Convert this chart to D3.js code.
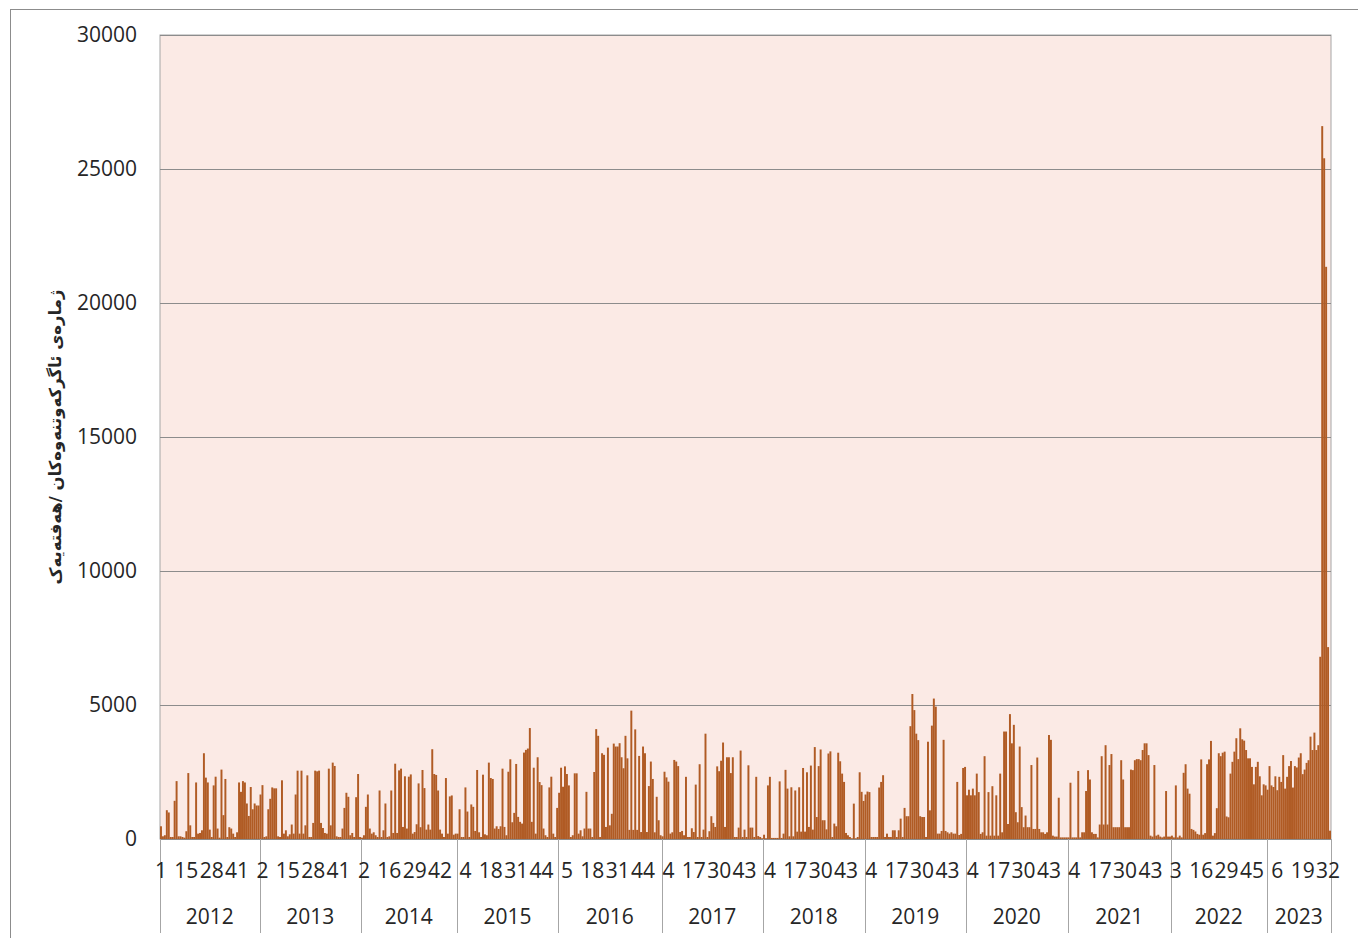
<!DOCTYPE html>
<html>
<head>
<meta charset="utf-8">
<script src="https://cdn.jsdelivr.net/npm/d3@7"></script>
<style>
  body { margin: 0; background: #fff; }
  svg { display: block; }
  text { font-family: "Open Sans", "Liberation Sans", Arial, sans-serif; fill: #262626; }
</style>
</head>
<body>
<svg id="chart"></svg>
<script>
// weekly counts, one array per year
var years = ["2012", "2013", "2014", "2015", "2016", "2017", "2018", "2019", "2020", "2021", "2022", "2023"];

var v2012 = [475, 100, 140, 1075, 990, 75, 75, 1425, 2160, 100, 100, 75, 50, 290, 2460, 510, 75, 75, 2110, 200,
  225, 325, 3200, 2290, 2110, 350, 75, 2000, 2325, 390, 50, 2590, 890, 2240, 75, 440, 390, 200, 75, 250,
  2110, 1760, 2160, 2110, 1325, 860, 1940, 1110, 1325, 1250, 1250];
var v2013 = [1660, 2010, 75, 100, 1110, 1500, 1925, 1890, 1890, 100, 75, 2190, 200, 325, 100, 175, 540, 200, 1660, 2550,
  200, 2550, 200, 510, 2375, 75, 75, 600, 2550, 2525, 2550, 600, 410, 225, 200, 2625, 510, 2850, 2725, 100,
  75, 75, 390, 1160, 1725, 1575, 140, 225, 75, 1560, 2425, 75];
var v2014 = [50, 140, 1200, 1660, 390, 200, 250, 140, 75, 1810, 75, 325, 1325, 75, 100, 1810, 225, 2810, 225, 2560,
  2625, 450, 2340, 390, 2325, 2410, 200, 260, 550, 2075, 440, 2575, 1900, 350, 540, 350, 3350, 2425, 2390, 1810,
  350, 200, 75, 2275, 200, 1590, 1625, 160, 200];
var v2015 = [200, 1110, 75, 75, 1925, 1025, 75, 1290, 1200, 300, 2575, 250, 75, 2400, 175, 140, 2850, 2275, 2240, 390,
  475, 375, 475, 2625, 450, 140, 2510, 2975, 625, 975, 2800, 825, 640, 575, 3225, 3325, 3375, 4140, 640, 2660,
  200, 3050, 2125, 2010, 390, 140, 75, 1925, 2325, 200, 75, 1160];
var v2016 = [1725, 2660, 1950, 2710, 2425, 2000, 75, 140, 2450, 2450, 200, 325, 100, 390, 1760, 390, 390, 75, 2500, 4100,
  3850, 75, 3200, 3140, 450, 3410, 510, 940, 3560, 3450, 3450, 3575, 3050, 2640, 3850, 3010, 340, 4790, 340, 4090,
  340, 3100, 260, 3450, 3200, 260, 1975, 2890, 2240, 250, 1575, 700, 140];
var v2017 = [100, 2510, 2300, 2140, 200, 250, 2950, 2890, 2720, 260, 300, 140, 2320, 75, 75, 400, 260, 2030, 75, 2790,
  75, 350, 3930, 75, 290, 850, 600, 450, 2710, 2530, 2920, 3600, 450, 3050, 3050, 2460, 3050, 75, 75, 425,
  3300, 75, 350, 75, 2750, 425, 425, 75, 2320, 110, 75, 25];
var v2018 = [160, 25, 2000, 2320, 40, 40, 40, 40, 2150, 40, 200, 2580, 1880, 100, 1930, 100, 1810, 275, 1930, 275,
  2650, 275, 2490, 450, 2740, 350, 3430, 820, 2720, 3340, 700, 700, 360, 3190, 3270, 75, 575, 475, 3220, 2900,
  2440, 2130, 225, 140, 75, 25, 1320, 25, 75, 2490, 1760, 1420];
var v2019 = [1660, 1770, 1750, 75, 75, 75, 75, 1920, 2130, 2380, 75, 200, 75, 75, 325, 325, 75, 325, 760, 75,
  1160, 850, 850, 4210, 5410, 4810, 3930, 3690, 850, 820, 820, 75, 3630, 1070, 4230, 5240, 4940, 200, 200, 300,
  3700, 300, 250, 200, 250, 200, 200, 2130, 150, 190, 2650, 2690];
var v2020 = [1630, 1840, 1630, 1880, 1630, 2440, 1750, 190, 250, 3090, 125, 1750, 125, 1970, 125, 1630, 125, 2440, 250, 4010,
  4010, 560, 4660, 3570, 4260, 1000, 625, 3450, 1190, 440, 875, 440, 440, 2760, 375, 375, 3040, 375, 250, 250,
  190, 250, 3880, 3700, 125, 90, 90, 1540, 60, 60, 60, 60];
var v2021 = [60, 2100, 60, 60, 60, 2540, 60, 250, 250, 1790, 2570, 2220, 250, 190, 190, 60, 540, 3090, 540, 3500,
  540, 2760, 3170, 440, 440, 440, 440, 2940, 2220, 440, 440, 440, 2590, 2570, 2940, 2980, 2980, 2940, 3320, 3570,
  3570, 3130, 125, 90, 2760, 125, 160, 90, 60, 90, 1790, 90, 90];
var v2022 = [125, 60, 2000, 60, 125, 60, 2470, 2790, 1880, 1690, 375, 340, 280, 190, 160, 2970, 160, 220, 2790, 2970,
  3660, 125, 220, 1150, 3200, 3090, 3220, 3260, 840, 810, 2440, 2880, 3260, 3760, 2980, 4130, 3720, 3670, 3320, 3010,
  3010, 2690, 2040, 2690, 2880, 2340, 1630, 2040, 2000];
var v2023 = [1840, 2720, 2000, 1940, 2340, 1820, 2320, 2130, 3130, 1880, 2320, 2720, 2910, 1920, 2720, 2670, 3040, 3200, 2420, 2590,
  2840, 2940, 3820, 3320, 3970, 3320, 3500, 6800, 26600, 25400, 21350, 7160, 310];

// week numbers printed under the bars (every 13th category)
var weekTicks = [["1", "15", "28", "41"], ["2", "15", "28", "41"], ["2", "16", "29", "42"], ["4", "18", "31", "44"],
  ["5", "18", "31", "44"], ["4", "17", "30", "43"], ["4", "17", "30", "43"], ["4", "17", "30", "43"],
  ["4", "17", "30", "43"], ["4", "17", "30", "43"], ["3", "16", "29", "45"], ["6", "19", "32"]];

var yTicks = [0, 5000, 10000, 15000, 20000, 25000, 30000];
var yTitle = "ژمارەی ئاگرکەوتنەوەکان /هەفتەیەک";

var series = [v2012, v2013, v2014, v2015, v2016, v2017, v2018, v2019, v2020, v2021, v2022, v2023];

var data = [];
series.forEach(function(vals, yi) {
  vals.forEach(function(v, j) {
    data.push({ year: years[yi], key: years[yi] + "-" + j, value: v });
  });
});

var svgWidth = 1358, svgHeight = 938;
var margin = { top: 35, right: 27, bottom: 99, left: 160 };
var width = svgWidth - margin.left - margin.right;
var height = svgHeight - margin.top - margin.bottom;

var svg = d3.select("#chart")
  .attr("width", svgWidth)
  .attr("height", svgHeight);

// outer chart border (right and bottom edges fall outside the picture)
svg.append("rect")
  .attr("x", 10.5).attr("y", 9.5)
  .attr("width", svgWidth).attr("height", svgHeight)
  .attr("fill", "#fff")
  .attr("stroke", "#8c8c8c");

var g = svg.append("g")
  .attr("transform", "translate(" + margin.left + "," + margin.top + ")");

var x = d3.scaleBand()
  .domain(data.map(function(d) { return d.key; }))
  .range([0, width])
  .padding(0);

var y = d3.scaleLinear()
  .domain([0, 30000])
  .range([height, 0]);

// plot area
g.append("rect")
  .attr("width", width).attr("height", height)
  .attr("fill", "#fbeae5")
  .attr("stroke", "#a6a6a6");

// gridlines + y labels
var yAxis = g.append("g")
  .call(d3.axisLeft(y).tickValues(yTicks).tickSize(-width).tickPadding(23).tickFormat(d3.format("d")));
yAxis.select(".domain").remove();
yAxis.selectAll("line").attr("stroke", "#8c8c8c");
yAxis.selectAll("text")
  .style("font-size", "21px")
  .attr("fill", "#262626");

// bars
g.append("g")
  .selectAll("rect")
  .data(data)
  .enter().append("rect")
  .attr("x", function(d) { return x(d.key); })
  .attr("y", function(d) { return y(d.value); })
  .attr("width", x.bandwidth())
  .attr("height", function(d) { return height - y(d.value); })
  .attr("fill", "#b05b24");

// category axis (two levels)
g.append("line")
  .attr("x1", 0).attr("x2", width)
  .attr("y1", height + 0.5).attr("y2", height + 0.5)
  .attr("stroke", "#8c8c8c");

var yearEdges = years.map(function(yr) { return x(yr + "-0"); });
yearEdges.push(width);

g.append("g")
  .selectAll("line")
  .data(yearEdges)
  .enter().append("line")
  .attr("x1", function(d) { return Math.round(d) + 0.5; })
  .attr("x2", function(d) { return Math.round(d) + 0.5; })
  .attr("y1", height)
  .attr("y2", height + 94)
  .attr("stroke", "#a6a6a6");

// week labels: every 13th category
var tickCats = data.filter(function(d, i) { return i % 13 === 0; });
var flatTicks = [].concat.apply([], weekTicks);
g.append("g")
  .selectAll("text")
  .data(tickCats)
  .enter().append("text")
  .attr("x", function(d) { return x(d.key) + x.bandwidth() / 2; })
  .attr("y", height + 39)
  .attr("text-anchor", "middle")
  .style("font-size", "21px")
  .text(function(d, i) { return flatTicks[i]; });

g.append("g")
  .selectAll("text")
  .data(years)
  .enter().append("text")
  .attr("x", function(d, i) { return (yearEdges[i] + yearEdges[i + 1]) / 2; })
  .attr("y", height + 85)
  .attr("text-anchor", "middle")
  .style("font-size", "21px")
  .text(function(d) { return d; });

// y title
svg.append("text")
  .attr("transform", "translate(61," + (margin.top + height / 2) + ") rotate(-90)")
  .attr("text-anchor", "middle")
  .style("font-family", "'DejaVu Sans', sans-serif")
  .style("font-size", "16.5px")
  .style("font-weight", "bold")
  .attr("fill", "#000")
  .text(yTitle);
</script>
</body>
</html>
